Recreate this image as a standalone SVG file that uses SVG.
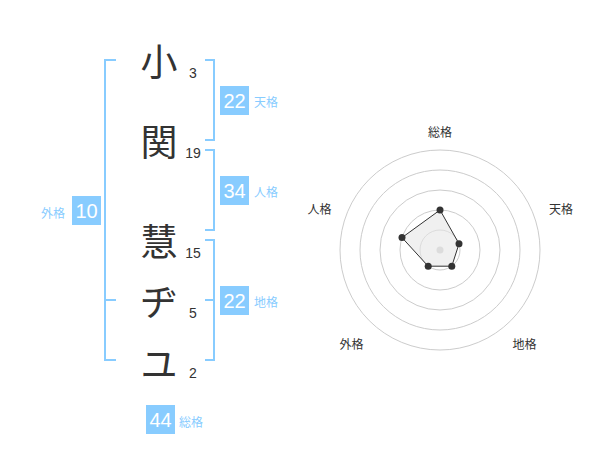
<svg xmlns="http://www.w3.org/2000/svg" width="600" height="470" viewBox="0 0 600 470">
<style>
.br{fill:none;stroke:#88ccff;stroke-width:2}
.ch{font-family:"Noto Sans CJK JP","Noto Sans CJK SC",sans-serif;font-size:37px;fill:#333;text-anchor:middle;dominant-baseline:central}
.num{font-family:"Liberation Sans",Arial,sans-serif;font-size:14px;fill:#333;text-anchor:middle}
.box{fill:#88ccff}
.bn{font-family:"Liberation Sans",Arial,sans-serif;font-size:20px;fill:#fff;text-anchor:middle;dominant-baseline:central}
.bl{font-family:"Noto Sans CJK JP","Noto Sans CJK SC",sans-serif;font-size:12px;fill:#88ccff;dominant-baseline:central}
.rl{font-family:"Noto Sans CJK JP","Noto Sans CJK SC",sans-serif;font-size:12px;fill:#333;text-anchor:middle;dominant-baseline:central}
.ring{fill:none;stroke:#ccc;stroke-width:1}
.dot{fill:#333}
</style>
<rect width="600" height="470" fill="#fff"/>
<g id="connectors">
<path class="br" d="M116,60 H105 V360 H116 M105,300 H116"/>
<path class="br" d="M205,60 H214 V140 H205"/>
<path class="br" d="M205,150 H214 V230 H205"/>
<path class="br" d="M205,240 H214 V360 H205 M214,300 H205"/>
</g>
<g id="char-1"><text class="ch" x="159" y="60">小</text><text class="num" x="193" y="78">3</text></g>
<g id="char-2"><text class="ch" x="159" y="140">関</text><text class="num" x="193" y="158">19</text></g>
<g id="char-3"><text class="ch" x="159" y="240">慧</text><text class="num" x="193" y="258">15</text></g>
<g id="char-4"><text class="ch" x="159" y="300">ヂ</text><text class="num" x="193" y="318">5</text></g>
<g id="char-5"><text class="ch" x="159" y="362">ユ</text><text class="num" x="193" y="378">2</text></g>
<g id="tenkaku"><rect class="box" x="220" y="86" width="29" height="29"/><text class="bn" x="234.5" y="101">22</text><text class="bl" x="254" y="101">天格</text></g>
<g id="jinkaku"><rect class="box" x="220" y="176" width="29" height="29"/><text class="bn" x="234.5" y="191">34</text><text class="bl" x="254" y="191">人格</text></g>
<g id="chikaku"><rect class="box" x="220" y="286" width="29" height="29"/><text class="bn" x="234.5" y="301">22</text><text class="bl" x="254" y="301">地格</text></g>
<g id="gaikaku"><rect class="box" x="72" y="196" width="29" height="29"/><text class="bn" x="86.5" y="211">10</text><text class="bl" x="41" y="212">外格</text></g>
<g id="soukaku"><rect class="box" x="146" y="405" width="29" height="29"/><text class="bn" x="160.5" y="420">44</text><text class="bl" x="179" y="421">総格</text></g>
<g id="radar">
<circle class="ring" cx="440" cy="250" r="20"/>
<circle class="ring" cx="440" cy="250" r="40"/>
<circle class="ring" cx="440" cy="250" r="60"/>
<circle class="ring" cx="440" cy="250" r="80"/>
<circle class="ring" cx="440" cy="250" r="100"/>
<circle cx="440" cy="250" r="3.5" fill="#ccc"/>
<polygon points="440,210 459,243.8 451.8,266.2 428.2,266.2 402,237.6" fill="#e6e6e6" fill-opacity="0.6" stroke="#333" stroke-width="1"/>
<circle class="dot" cx="440" cy="210" r="3.5"/>
<circle class="dot" cx="459" cy="243.8" r="3.5"/>
<circle class="dot" cx="451.8" cy="266.2" r="3.5"/>
<circle class="dot" cx="428.2" cy="266.2" r="3.5"/>
<circle class="dot" cx="402" cy="237.6" r="3.5"/>
<text class="rl" x="440" y="131">総格</text>
<text class="rl" x="561" y="208">天格</text>
<text class="rl" x="524.5" y="343">地格</text>
<text class="rl" x="351.5" y="343">外格</text>
<text class="rl" x="319.5" y="208">人格</text>
</g>
</svg>
